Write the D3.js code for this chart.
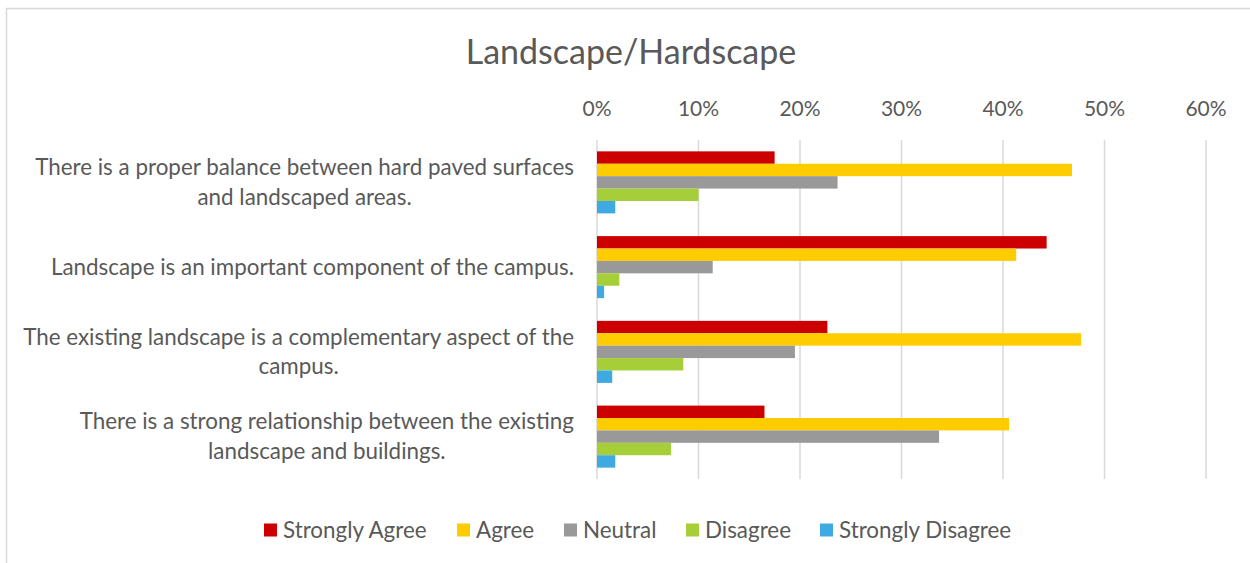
<!DOCTYPE html>
<html>
<head>
<meta charset="utf-8">
<script src="https://cdn.jsdelivr.net/npm/d3@7"></script>
<style>
body{margin:0;background:#fff;}
text{font-family:Lato,"Open Sans",sans-serif;fill:#595959;}
</style>
</head>
<body>
<div id="chart"></div>
<script>
var categories = [
  ["There is a proper balance between hard paved surfaces", "and landscaped areas."],
  ["Landscape is an important component of the campus."],
  ["The existing landscape is a complementary aspect of the", "campus."],
  ["There is a strong relationship between the existing", "landscape and buildings."]
];
var seriesNames = ["Strongly Agree","Agree","Neutral","Disagree","Strongly Disagree"];
var seriesColors = ["#CC0000","#FFCC00","#999999","#A6CE39","#3FAAE1"];
var stronglyAgree = [17.5, 44.3, 22.7, 16.5];
var agree = [46.8, 41.3, 47.7, 40.6];
var neutral = [23.7, 11.4, 19.5, 33.7];
var disagree = [10.0, 2.2, 8.5, 7.3];
var stronglyDisagree = [1.8, 0.7, 1.5, 1.8];
var ticks = [0,10,20,30,40,50,60];

var series = [stronglyAgree, agree, neutral, disagree, stronglyDisagree];

var svg = d3.select("#chart").append("svg").attr("width",1250).attr("height",563);

// chart border
svg.append("rect").attr("x",6.5).attr("y",8.5).attr("width",1260).attr("height",570)
  .attr("fill","#fff").attr("stroke","#D9D9D9").attr("stroke-width",1.5);

svg.append("text").attr("x",631).attr("y",64).attr("text-anchor","middle")
  .attr("font-size",34).text("Landscape/Hardscape");

var x = d3.scaleLinear().domain([0,60]).range([597,1206]);
var y = d3.scaleBand().domain(d3.range(categories.length)).range([140,479])
  .paddingInner(0.268).paddingOuter(0.134);
var ySub = d3.scaleBand().domain(d3.range(series.length)).range([0,y.bandwidth()]);

// gridlines
svg.selectAll(".grid").data(ticks).enter().append("line")
  .attr("x1",d=>x(d)).attr("x2",d=>x(d)).attr("y1",140).attr("y2",479)
  .attr("stroke","#D9D9D9").attr("stroke-width",1.5);

svg.selectAll(".tick").data(ticks).enter().append("text")
  .attr("x",d=>x(d)).attr("y",116).attr("text-anchor","middle")
  .attr("font-size",21).text(d=>d+"%");

// bars
series.forEach(function(vals,si){
  svg.selectAll(".bar"+si).data(vals).enter().append("rect")
    .attr("x",x(0)).attr("y",(d,i)=>y(i)+ySub(si))
    .attr("width",d=>x(d)-x(0)).attr("height",ySub.bandwidth())
    .attr("fill",seriesColors[si]);
});

// category labels (right aligned block, lines centred)
categories.forEach(function(lines,i){
  var cy = y(i)+y.bandwidth()/2;
  var g = svg.append("g");
  var lh = 29.5;
  var t = g.selectAll("text").data(lines).enter().append("text")
    .attr("y",(d,j)=>cy+(j-(lines.length-1)/2)*lh+7.5)
    .attr("font-size",22.4).attr("text-anchor","middle").text(d=>d);
  var w = d3.max(t.nodes(),n=>n.getComputedTextLength());
  t.attr("x",574-w/2);
});

// legend
var legendX = [264,457,564,686,820];
var lg = svg.selectAll(".leg").data(seriesNames).enter().append("g")
  .attr("transform",(d,i)=>"translate("+legendX[i]+",530)");
lg.append("rect").attr("x",0).attr("y",-6.5).attr("width",13).attr("height",13)
  .attr("fill",(d,i)=>seriesColors[i]);
lg.append("text").attr("x",19).attr("y",7.5).attr("font-size",22.4).text(d=>d);
</script>
</body>
</html>
